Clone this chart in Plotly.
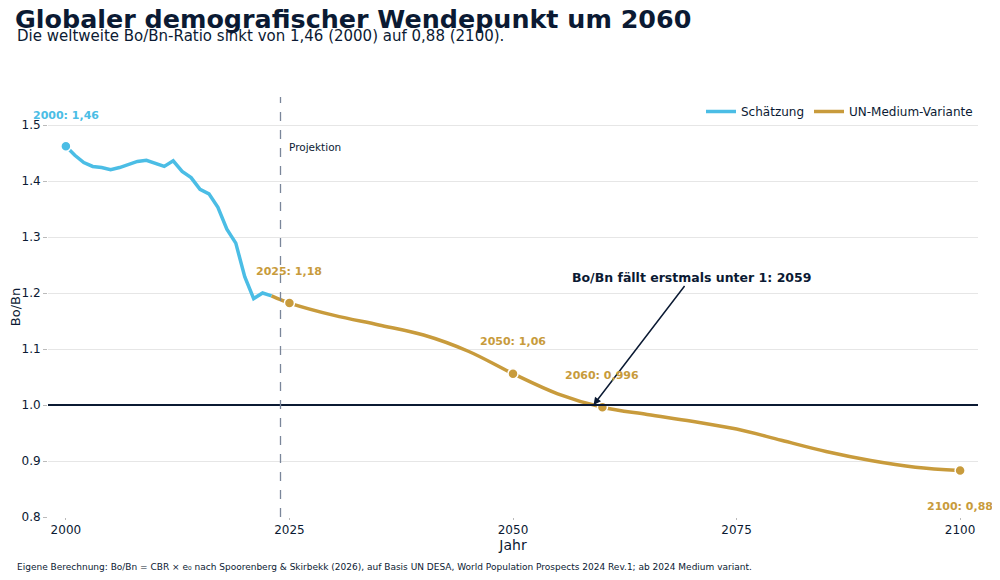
import plotly.graph_objects as go

# Schätzung (UN WPP 2024), jährlich
est_years = list(range(2000, 2024))
est_vals = [1.462, 1.446, 1.433, 1.426, 1.424, 1.420, 1.424, 1.430, 1.435, 1.437,
            1.432, 1.426, 1.436, 1.417, 1.406, 1.385, 1.377, 1.353, 1.314, 1.289,
            1.229, 1.190, 1.200, 1.195]

# UN-Medium-Variante
proj_years = [2023, 2024, 2025, 2030, 2035, 2040, 2045, 2050, 2055, 2060,
              2065, 2070, 2075, 2080, 2085, 2090, 2095, 2100]
proj_vals = [1.195, 1.188, 1.182, 1.160, 1.143, 1.125, 1.096, 1.056, 1.020, 0.996,
             0.983, 0.971, 0.957, 0.937, 0.917, 0.901, 0.889, 0.883]

# hervorgehobene Punkte
hl_years = [2025, 2050, 2060, 2100]
hl_vals = [1.182, 1.056, 0.996, 0.883]
hl_labels = ["2025: 1,18", "2050: 1,06", "2060: 0,996", "2100: 0,88"]

cross_year = 2059
proj_start = 2024

BLUE = "#4BBDE5"
GOLD = "#C89B3C"
NAVY = "#0B1A33"
FONT = "DejaVu Sans"

fig = go.Figure()

fig.add_trace(go.Scatter(
    x=est_years, y=est_vals, mode="lines", name="Schätzung",
    line=dict(color=BLUE, width=3.5),
))
fig.add_trace(go.Scatter(
    x=proj_years, y=proj_vals, mode="lines", name="UN-Medium-Variante",
    line=dict(color=GOLD, width=3.5, shape="spline", smoothing=1.0),
))
fig.add_trace(go.Scatter(
    x=[est_years[0]], y=[est_vals[0]], mode="markers", showlegend=False,
    marker=dict(color=BLUE, size=10, line=dict(color="white", width=1.5)),
))
fig.add_trace(go.Scatter(
    x=hl_years, y=hl_vals, mode="markers", showlegend=False,
    marker=dict(color=GOLD, size=10, line=dict(color="white", width=1.5)),
))

# Referenzlinie 1.0 und Projektionsbeginn
fig.add_hline(y=1.0, line=dict(color=NAVY, width=2))
fig.add_vline(x=proj_start, line=dict(color="#7A869A", width=1.3, dash="dash"))

annotations = [
    dict(x=est_years[0], y=est_vals[0], text="<b>2000: 1,46</b>", showarrow=False,
         yshift=31, font=dict(color=BLUE, size=11)),
    dict(x=proj_start, xref="x", y=0.9, yref="paper", text="Projektion",
         showarrow=False, xanchor="left", xshift=6, font=dict(color=NAVY, size=10.5)),
    dict(x=cross_year, y=1.0, text="<b>Bo/Bn fällt erstmals unter 1: 2059</b>",
         showarrow=True, arrowhead=2, arrowsize=1, arrowwidth=1.5, arrowcolor=NAVY,
         ax=98, ay=-128, font=dict(color=NAVY, size=12.5)),
]
for yr, v, lab in zip(hl_years, hl_vals, hl_labels):
    annotations.append(dict(x=yr, y=v, text="<b>" + lab + "</b>", showarrow=False,
                            yshift=-36 if yr == 2100 else 32,
                            font=dict(color=GOLD, size=11)))

annotations += [
    dict(xref="paper", yref="paper", x=-0.0355, y=1.146, xanchor="left", yanchor="middle",
         text="Die weltweite Bo/Bn-Ratio sinkt von 1,46 (2000) auf 0,88 (2100).",
         showarrow=False, font=dict(color=NAVY, size=15)),
    dict(xref="paper", yref="paper", x=-0.0355, y=-0.119, xanchor="left", yanchor="middle",
         text="Eigene Berechnung: Bo/Bn = CBR × e₀ nach Spoorenberg & Skirbekk (2026), "
              "auf Basis UN DESA, World Population Prospects 2024 Rev.1; ab 2024 Medium variant.",
         showarrow=False, font=dict(color=NAVY, size=9)),
]

fig.update_layout(
    margin=dict(l=40, r=14, t=89, b=55),
    paper_bgcolor="white", plot_bgcolor="white",
    font=dict(family=FONT, color=NAVY, size=12),
    title=dict(text="<b>Globaler demografischer Wendepunkt um 2060</b>",
               xref="container", yref="container", x=0.0071, y=0.981,
               xanchor="left", yanchor="middle",
               font=dict(size=25.4, color=NAVY)),
    legend=dict(orientation="h", x=1, y=1, xanchor="right", yanchor="top",
                bgcolor="rgba(0,0,0,0)", font=dict(size=12)),
    annotations=annotations,
    xaxis=dict(range=[1998, 2102], tickvals=[2000, 2025, 2050, 2075, 2100],
               showgrid=False, zeroline=False, ticks="outside", ticklen=2,
               tickcolor="#BBBBBB", automargin=False,
               title=dict(text="Jahr", font=dict(size=14), standoff=3)),
    yaxis=dict(range=[0.8, 1.55], dtick=0.1, tickformat=".1f",
               showgrid=True, gridcolor="#E6E6E6", gridwidth=1, zeroline=False,
               ticks="outside", ticklen=4, tickcolor="#BBBBBB", automargin=False,
               title=dict(text="Bo/Bn", font=dict(size=13), standoff=4)),
)

fig.write_html("out.html")
